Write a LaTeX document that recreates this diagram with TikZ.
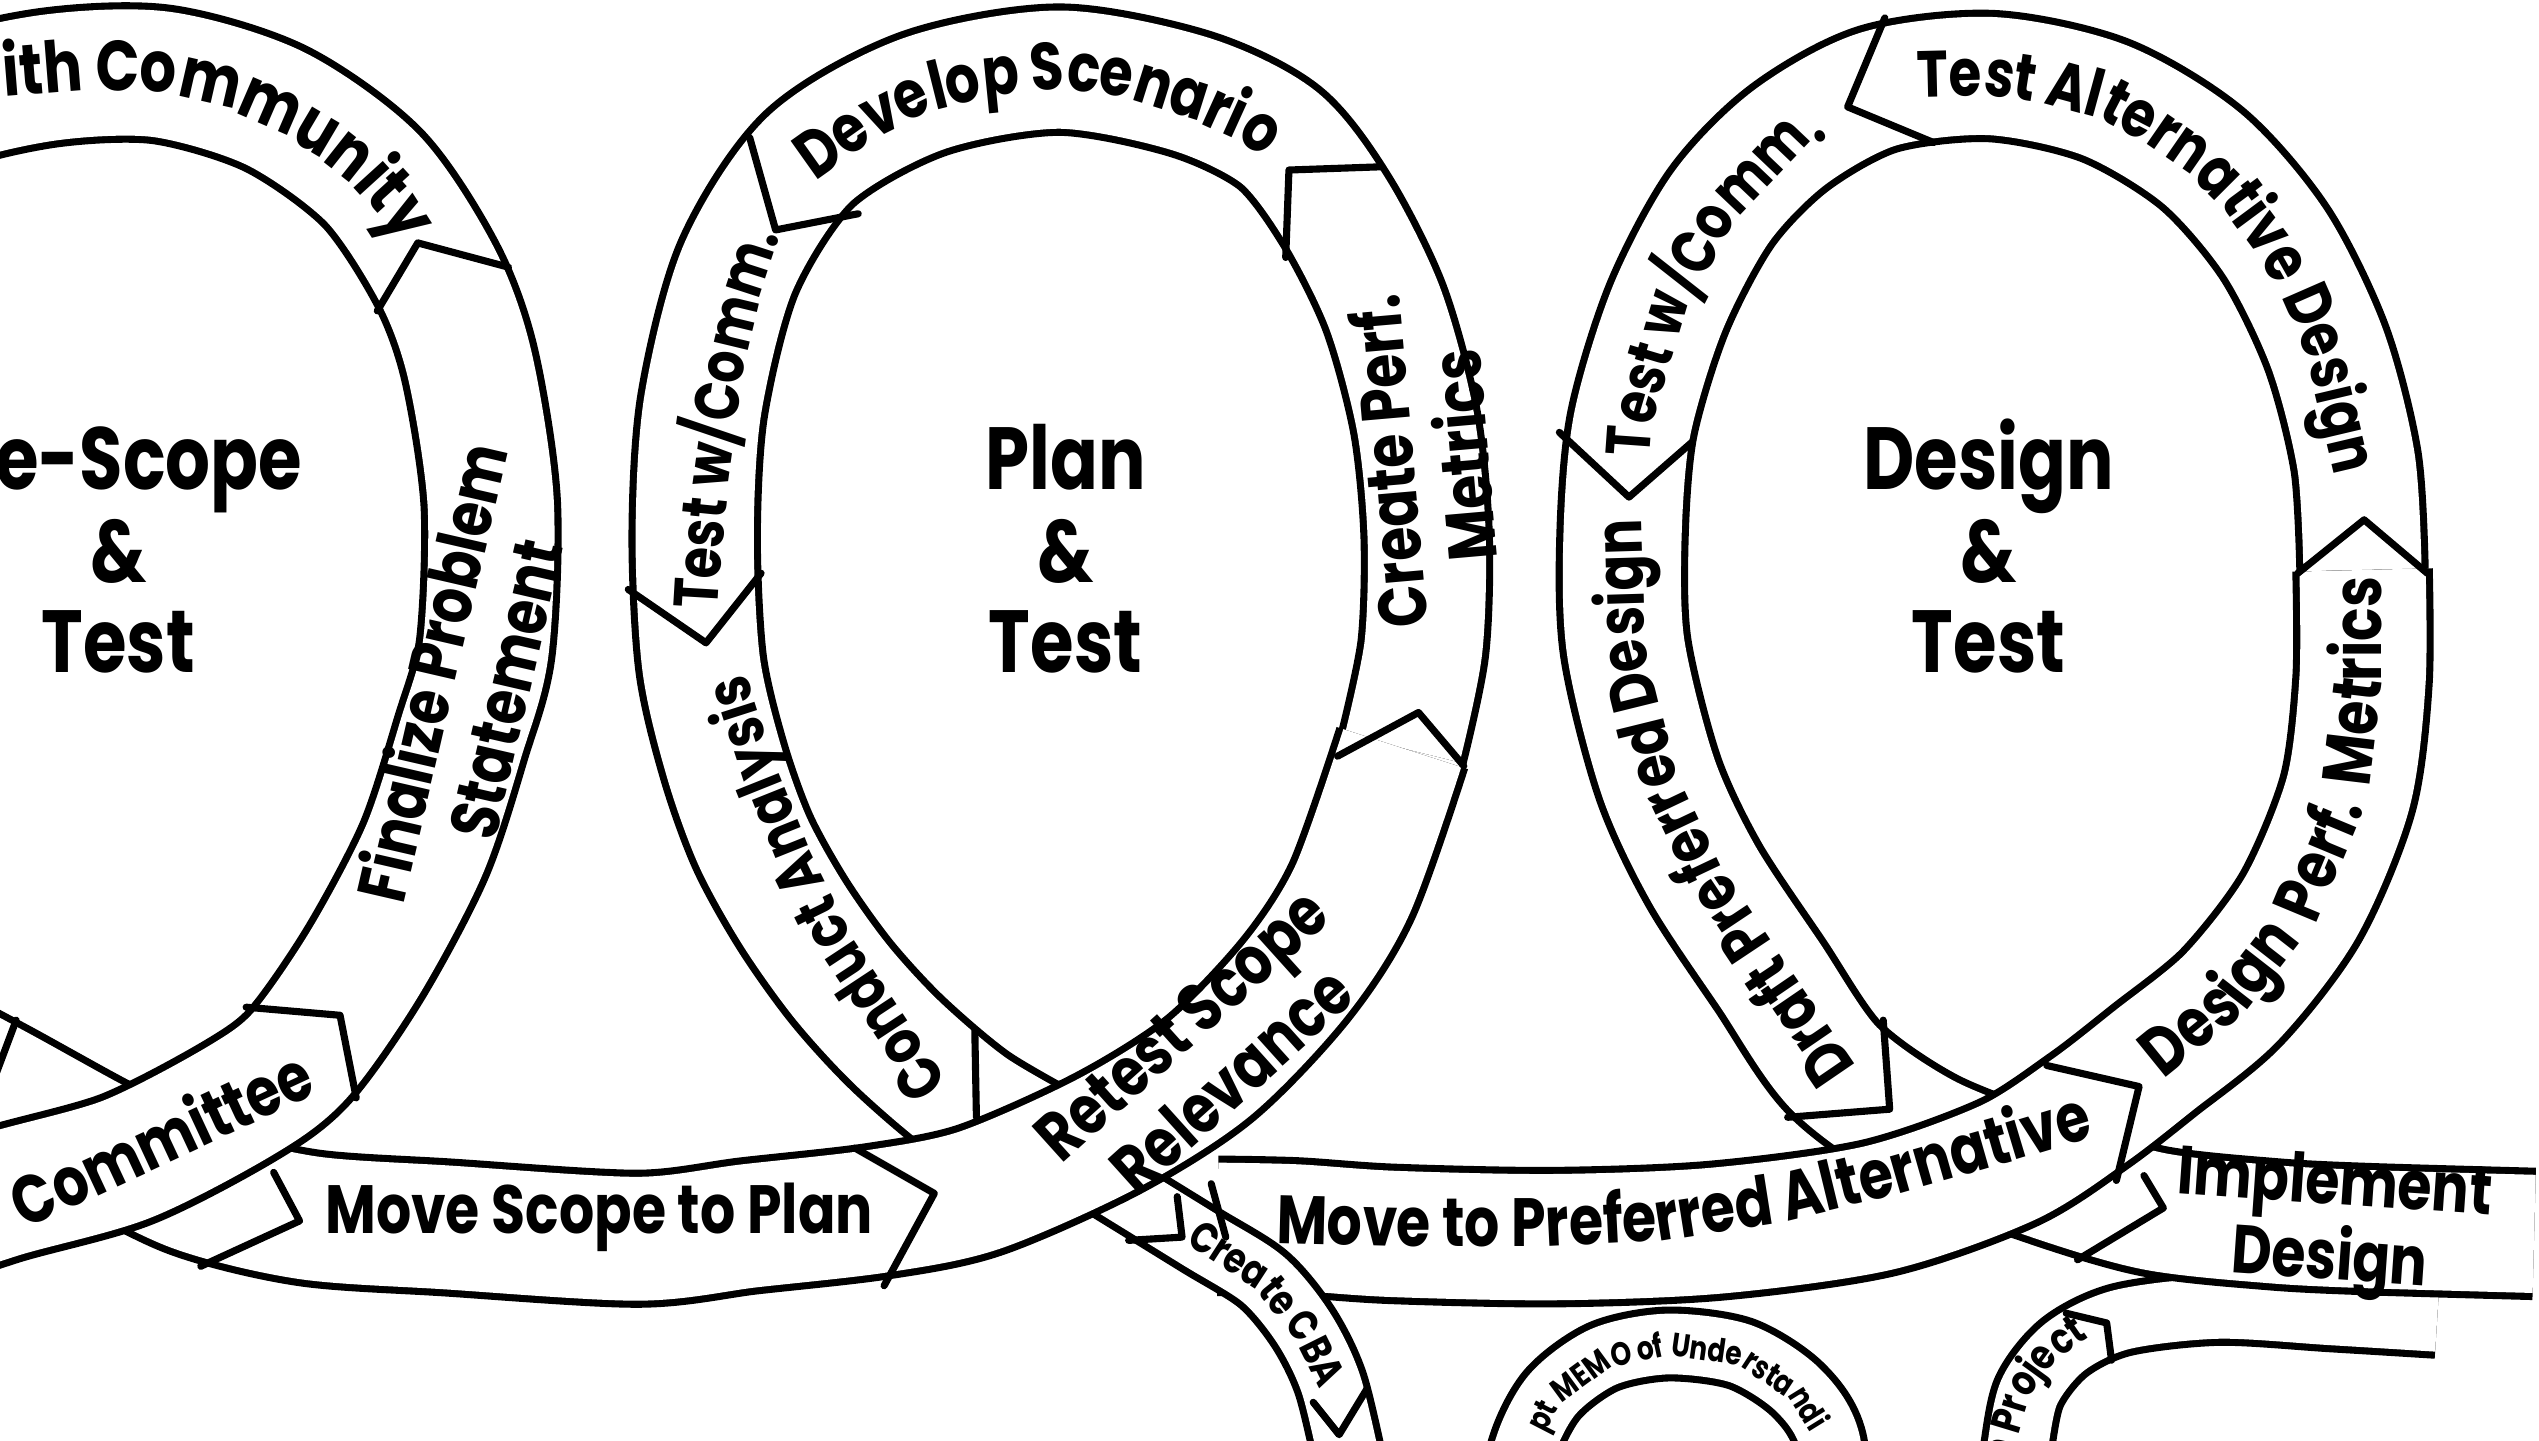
\documentclass[tikz,border=0pt]{standalone}
\usepackage{fontspec}
\setmainfont{Poppins}
\newfontfamily\labfont{Poppins}[FakeStretch=0.81]
\newfontfamily\titlefont{Poppins}[FakeStretch=0.8]
\newcommand\fs[1]{\labfont\bfseries\fontsize{#1}{1.1\dimexpr#1\relax}\selectfont}
\newcommand\mylab{\fs{24pt}}
\newcommand\wsp{\hspace*{0.3em}}
\usetikzlibrary{decorations.text}
\begin{document}
\begin{tikzpicture}[x=0.02cm,y=-0.02cm,
  band/.style={draw=black, line width=2.5pt, double=white, double distance=#1, line cap=butt},
  band/.default=1.46cm,
  chev/.style={draw=black, line width=2.5pt, line join=round, line cap=round},
  lab/.style={font=\mylab, inner sep=0pt, align=center},
  big/.style={font=\titlefont\bfseries\fontsize{31pt}{35pt}\selectfont, inner sep=0pt, anchor=base},
  curv/.style={decorate, decoration={text along path, text align=center, text={#1}}}
]
\useasboundingbox (0,0) rectangle (1568,889.3);
\fill[white] (0,0) rectangle (1568,889.3);

% ---------- ribbons, from the lowest layer up ----------
% lower right loop ("... Project")
\draw[band=0.75cm] plot[smooth] coordinates {(1240,930) (1245,900) (1253,860) (1275,832) (1310,815) (1370,808) (1440,812) (1505,816)};
% MEMO arch
\draw[band=0.75cm] plot[smooth] coordinates {(935,960) (940,900) (958,862) (990,838) (1030,830) (1075,836) (1110,858) (1130,890) (1135,960)};
% loop 3: top, left side, downstroke, Implement Design
\draw[band] plot[smooth] coordinates {(1459,352) (1455,285) (1437,215) (1405,150) (1360,98) (1300,62) (1230,47) (1160,55) (1105,85) (1063,128) (1030,190) (1008,262) (1002,331) (1004,400) (1024,480) (1052,540) (1093,602) (1133,660) (1190,700) (1262,728) (1330,748) (1403,756) (1461,759) (1565,762)};
% Move to Preferred Alternative + Design Perf. Metrics (upstroke of loop 3)
\draw[band=1.56cm] plot[smooth] coordinates {(752,757) (800,758) (860,762) (960,764) (1060,760) (1160,746) (1240,718) (1290,686) (1330,655) (1378,616) (1421,560) (1450,490) (1459,420) (1459,352)};
% loop 2 ring
\draw[band] plot[smooth] coordinates {(866,462) (879,400) (881,330) (874,260) (855,190) (825,130) (790,85) (735,58) (654,43) (570,58) (500,98) (456,165) (434,250) (429,330) (433,410) (447,470) (465,520) (490,565) (520,607) (555,645) (600,683) (650,712)};
% Create CBA branch
\draw[band=0.75cm] plot[smooth] coordinates {(680,728) (740,765) (780,790) (805,820) (822,855) (835,910)};
% loop 1 downstroke, Move Scope to Plan, Retest Scope Relevance
\draw[band=1.53cm] plot[smooth] coordinates {(-60,640) (0,672) (60,705) (120,735) (190,752) (276,758) (394,765) (463,757) (542,748) (605,735) (684,700) (747,660) (800,605) (835,550) (866,462)};
% loop 1: Committee, Finalize, top
\draw[band=1.56cm] plot[smooth] coordinates {(-70,762) (0,738) (78,716) (148,680) (185,652) (225,595) (262,525) (285,455) (300,400) (303,310) (290,225) (270,170) (230,110) (170,67) (100,46) (30,48) (-40,65) (-100,100)};

% ---------- chevrons / segment ends ----------
\draw[chev] (233,192) -- (258,150) -- (314,165);
\draw[chev] (152,622) -- (210,627) -- (220,678);
\draw[chev] (10,630) -- (-2,662);
\draw[chev] (169,724) -- (185,754) -- (124,782);
\draw[chev] (528,709) -- (577,737) -- (546,794);
\draw[chev] (826,467) -- (876,440) -- (904,473);
\draw[chev] (853,103) -- (796,105) -- (794,159);
\draw[chev] (463,85) -- (479,142) -- (530,132);
\draw[chev] (388,364) -- (436,397) -- (470,354);
\draw[chev] (602,636) -- (603,690);
\draw[chev] (1164,11) -- (1141,66) -- (1194,88);
\draw[chev] (963,267) -- (1006,307) -- (1045,273);
\draw[chev] (1419,354) -- (1460,321) -- (1499,354);
\draw[chev] (1104,690) -- (1167,685) -- (1163,630);
\draw[chev] (1264,658) -- (1321,671) -- (1307,729);
\draw[chev] (1324,726) -- (1336,746) -- (1283,778);
\draw[chev] (748,731) -- (757,764);
\draw[chev] (727,739) -- (730,764) -- (697,766);
\draw[chev] (811,866) -- (827,886) -- (844,858);
\draw[chev] (1276,811) -- (1301,817) -- (1304,840);

% ---------- centre titles ----------
\node[big, anchor=base east] (t1a) at (187,302) {e-Scope};
\node[big] (t1b) at (73,360) {\&};
\node[big] (t1c) at (73,415) {Test};
\node[big] (t2a) at (658,302) {Plan};
\node[big] (t2b) at (658,360) {\&};
\node[big] (t2c) at (658,415) {Test};
\node[big] (t3a) at (1228,302) {Design};
\node[big] (t3b) at (1228,360) {\&};
\node[big] (t3c) at (1228,415) {Test};

% ---------- straight labels ----------
\node[lab, rotate=77] (fin) at (288,420) {Finalize Problem\\Statement};
\node[lab, rotate=95] (cpm) at (880,283) {Create Perf.\\Metrics};
\node[lab, rotate=42] (rsr) at (745,650) {Retest Scope\\Relevance};
\node[lab, rotate=-4] (imp) at (1440,757) {Implement\\Design};
\node[lab, rotate=25] (com) at (99,702) {Committee};
\node[lab] (msp) at (370,752) {Move Scope to Plan};

% ---------- curved labels (polyline guides) ----------
\path[curv={|\fs{25pt}|ith Community}] plot coordinates {(-60,75) (0,60) (50,56) (100,57) (135,65) (165,78) (192,94) (216,113) (236,135) (252,160) (274,210)};
\path[curv={|\fs{23.5pt}|Develop Scenario}] plot coordinates {(440,195) (478,135) (509,108) (540,86) (574,69) (614,59) (654,55) (694,60) (732,72) (765,87) (794,107) (835,150) (855,172)};
\path[curv={|\fs{22pt}|Test w/Comm.}] plot coordinates {(440,426) (441,410) (444,360) (451,290) (460,225) (472,175) (485,135) (500,100)};
\path[curv={|\fs{22pt}|Conduct Analysis}] plot coordinates {(600,690) (575,653) (560,630) (527,580) (500,525) (478,470) (462,420) (457,390)};
\path[curv={|\mylab|Move to Preferred Alternative}] plot coordinates {(740,768) (790,768) (870,770) (950,770) (1030,766) (1100,755) (1170,738) (1240,718) (1300,700) (1340,688)};
\path[curv={|\mylab|Design{\wsp}Perf.{\wsp}Metrics}] plot coordinates {(1293,703) (1328,673) (1386,626) (1432,567) (1462,495) (1471,420) (1471,352) (1468,300)};
\path[curv={|\fs{23pt}|Test Alternative Design}] plot coordinates {(1140,72) (1188,60) (1230,59) (1262,64) (1295,73) (1324,88) (1350,106) (1373,129) (1393,156) (1410,186) (1424,218) (1441,290) (1446,340)};
\path[curv={|\fs{22pt}|Test w/Comm.}] plot coordinates {(1016,320) (1020,264) (1040,197) (1071,137) (1110,96) (1163,67)};
\path[curv={|\fs{23pt}|Draft Preferred Design}] plot coordinates {(1185,700) (1142,652) (1103,595) (1063,535) (1035,476) (1016,399) (1014,331) (1020,264)};
\path[curv={|\fs{15pt}|Create CBA}] plot coordinates {(700,745) (734,769) (774,795) (799,826) (816,860) (828,895)};
\path[curv={|\fs{11.5pt}|pt MEMO of Understandi}] plot coordinates {(942,960) (947,900) (964,867) (994,845) (1031,837) (1073,843) (1105,864) (1123,893) (1128,960)};
\path[decorate, decoration={text along path, text align=right, text={|\fs{15pt}|n Project}}] plot coordinates {(1236,930) (1244,895) (1254,862) (1270,840) (1290,826)};
\end{tikzpicture}
\end{document}
